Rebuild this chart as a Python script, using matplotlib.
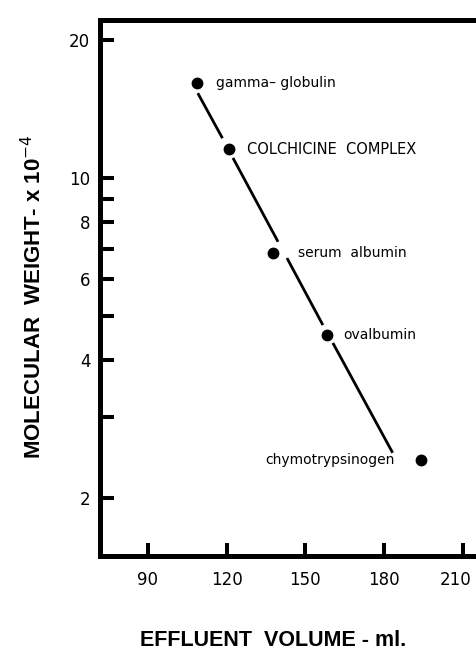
import numpy as np
import matplotlib
matplotlib.use("Agg")
import matplotlib.pyplot as plt
from matplotlib.transforms import ScaledTranslation

# Проби (білки-маркери) і їх положення на графіку
names = ["gamma\u2013 globulin", "COLCHICINE  COMPLEX", "serum  albumin",
         "ovalbumin", "chymotrypsinogen"]
volume = np.array([108.5, 120.9, 137.6, 158.2, 194.3])
mol_weight = np.array([16.1, 11.55, 6.85, 4.54, 2.42])

# Калібрувальна пряма (з розривами біля точок)
line_x = [[109.0, 118.4], [122.4, 139.6], [143.0, 156.7], [160.5, 183.3]]
line_y = [[15.3, 12.2], [11.05, 7.25], [6.68, 4.77], [4.36, 2.51]]

# Поділки осей
xticks = [90, 120, 150, 180, 210]
yticks = [2, 3, 4, 5, 6, 7, 8, 9, 10, 20]
ytick_labels = ["2", "", "4", "", "6", "", "8", "", "10", "20"]

# зсув підписів відносно точок (пт) і розмір шрифту
label_dx = [13.7, 13, 18, 12, -19.4]
label_fs = [10, 10.5, 10, 10, 10]

fig = plt.figure(figsize=(4.76, 6.52), dpi=100)
ax = fig.add_axes([0.2101, 0.1472, 0.8445, 0.8221])

for xs, ys in zip(line_x, line_y):
    ax.plot(xs, ys, color="black", lw=2.0, solid_capstyle="butt")

ax.plot(volume, mol_weight, "o", color="black", ms=7.5)

for name, xv, yv, dx, fs in zip(names, volume, mol_weight, label_dx, label_fs):
    ax.annotate(name, (xv, yv), xytext=(dx, 0), textcoords="offset points",
                ha="left" if dx > 0 else "right", va="center",
                fontsize=fs, family="DejaVu Sans")

ax.set_yscale("log")
ax.set_xlim(71.7, 225)
ax.set_ylim(1.494, 22.1)
ax.set_xticks(xticks)
ax.set_xticklabels([str(v) for v in xticks])
ax.set_yticks(yticks)
ax.set_yticklabels(ytick_labels)
ax.yaxis.set_minor_locator(matplotlib.ticker.NullLocator())

ax.tick_params(axis="y", direction="in", length=10, width=2.9, pad=7,
               labelsize=12)
ax.tick_params(axis="x", direction="in", length=9.5, width=2.9, pad=11,
               labelsize=12)

# останній підпис трохи лівіше, щоб не обрізався краєм
last = ax.get_xticklabels()[-1]
last.set_transform(last.get_transform() + ScaledTranslation(-5 / 72, 0, fig.dpi_scale_trans))

for s in ax.spines.values():
    s.set_linewidth(3.6)
    s.set_capstyle("projecting")

fig.text(34 / 476, 1 - 297 / 652, "MOLECULAR  WEIGHT- x 10$^{-4}$",
         rotation=90, ha="center", va="center", fontsize=16,
         family="Liberation Sans", fontweight="bold")
fig.text(273 / 476, 0.002, "EFFLUENT  VOLUME - ml.",
         ha="center", va="bottom", fontsize=15.5,
         family="Liberation Sans", fontweight="bold")

fig.savefig("out.png", dpi=100)
